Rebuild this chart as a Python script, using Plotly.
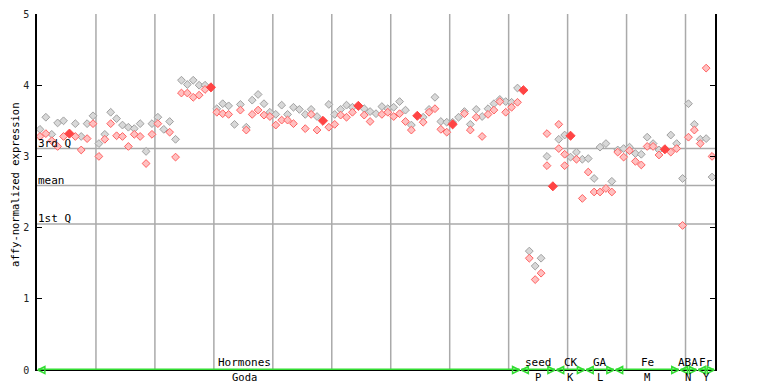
import plotly.graph_objects as go

# ---- data (sample index -> replicate values) ----
rep1 = [3.38,3.55,3.31,3.47,3.50,None,3.46,3.28,3.46,3.57,
        3.18,3.31,3.62,3.53,3.44,3.41,3.39,3.46,3.07,3.46,
        3.55,3.38,3.49,3.24,4.07,4.01,4.07,4.00,4.00,None,
        3.67,3.74,3.71,3.45,3.73,3.41,3.79,3.87,3.74,3.62,
        3.59,3.72,3.59,3.69,3.66,3.59,3.66,3.56,None,3.73,
        3.59,3.66,3.72,3.69,None,3.67,3.63,3.60,3.70,3.67,
        3.69,3.77,3.65,3.44,None,3.55,3.66,3.83,3.49,3.48,
        3.48,3.55,3.63,3.45,3.66,3.56,3.67,3.74,3.80,3.77,
        3.76,3.96,None,1.67,1.46,1.57,3.00,None,3.24,3.30,
        2.99,3.06,2.96,2.97,2.69,3.13,3.18,2.65,3.09,3.11,
        3.13,3.04,3.03,3.27,3.18,3.09,None,3.30,3.18,2.69,
        3.74,3.45,3.24,3.25,2.71]
rep2 = [3.28,3.32,3.22,3.14,3.28,None,3.28,3.09,3.25,3.46,
        3.00,3.24,3.46,3.29,3.28,3.14,3.31,3.28,2.90,3.31,
        3.46,None,3.34,2.99,3.89,3.89,3.83,3.86,3.94,None,
        3.62,3.60,3.59,None,3.65,3.37,3.59,3.65,3.58,3.56,
        3.44,3.51,3.51,3.46,None,3.39,3.59,3.37,None,3.41,
        3.45,3.58,3.55,3.62,None,3.58,3.49,None,3.59,3.62,
        3.56,3.60,3.49,3.37,None,3.48,3.62,3.67,3.38,3.34,
        None,None,3.60,3.37,3.55,3.28,3.59,3.65,3.77,3.62,
        3.69,3.76,None,1.57,1.27,1.36,3.32,None,3.45,2.87,
        None,2.96,2.41,2.78,2.50,2.50,2.55,2.50,3.06,2.99,
        3.08,2.93,2.88,3.14,3.14,3.02,None,3.06,3.11,2.03,
        3.27,3.37,3.18,4.24,3.00]
rep3 = [None]*86 + [2.87, None, 3.11, 3.03] + [None]*25
solid = [None]*5 + [3.32] + [None]*23 + [3.97] + [None]*18 + [3.50] + [None]*5 + [3.71] \
        + [None]*9 + [3.57] + [None]*5 + [3.45] + [None]*11 + [3.93] + [None]*4 + [2.58] \
        + [None]*2 + [3.29] + [None]*15 + [3.10] + [None]*8
samples = list(range(len(rep1)))

groups_top = ["Hormones", "seed", "CK", "GA", "Fe", "ABA", "Fr"]
groups_bottom = ["Goda", "P", "K", "L", "M", "N", "Y"]
group_start = [0, 82, 88, 93, 98, 109, 112]
group_end = [81, 87, 92, 97, 108, 111, 114]

quartiles = {"3rd Q": 3.11, "mean": 2.59, "1st Q": 2.05}
y_ticks = [0, 1, 2, 3, 4, 5]

FONT = "DejaVu Sans Mono"
FS = 11
GRID = "#aaaaaa"
GREEN = "#33dd33"
# page has an 8px body margin; compensate so the plot area lands at x 37..715, y 14..370
W, H = 760, 376
ML, MR, MT, MB = 29, 53, 6, 14

fig = go.Figure()

# quartile lines
for name, v in quartiles.items():
    fig.add_shape(type="line", xref="paper", x0=0, x1=1, yref="y", y0=v, y1=v,
                  line=dict(color=GRID, width=1.5), layer="below")
    fig.add_annotation(xref="paper", x=0.0, yref="y", y=v, text=name, showarrow=False,
                       xanchor="left", yanchor="bottom", yshift=-2, borderpad=0,
                       font=dict(family=FONT, size=FS, color="#000"))

# vertical separators every 10 samples
for k in range(10, len(samples), 10):
    fig.add_shape(type="line", xref="x", x0=k - 0.5, x1=k - 0.5, yref="paper", y0=0, y1=1,
                  line=dict(color=GRID, width=1.5), layer="below")

def pts(vals):
    xs = [s for s, v in zip(samples, vals) if v is not None]
    ys = [v for v in vals if v is not None]
    return xs, ys

x1, y1 = pts(rep1)
fig.add_trace(go.Scatter(x=x1, y=y1, mode="markers",
                         marker=dict(symbol="diamond", size=6, color="#d8d8d8",
                                     line=dict(color="#a0a0a0", width=1)),
                         cliponaxis=False, hoverinfo="skip"))
for vals in (rep2, rep3):
    xx, yy = pts(vals)
    fig.add_trace(go.Scatter(x=xx, y=yy, mode="markers",
                             marker=dict(symbol="diamond", size=6, color="#ffc0c0",
                                         line=dict(color="#ff6060", width=1)),
                             cliponaxis=False, hoverinfo="skip"))
xs, ys = pts(solid)
fig.add_trace(go.Scatter(x=xs, y=ys, mode="markers",
                         marker=dict(symbol="diamond", size=7, color="#ff4444",
                                     line=dict(color="#ff4444", width=1)),
                         cliponaxis=False, hoverinfo="skip"))

# group arrows and labels
for top, bot, s, e in zip(groups_top, groups_bottom, group_start, group_end):
    fig.add_trace(go.Scatter(x=[s - 0.35, e + 0.35], y=[0, 0], mode="lines+markers",
                             line=dict(color=GREEN, width=3),
                             marker=dict(symbol=["arrow-left-open", "arrow-right-open"],
                                         size=7, color=GREEN, line=dict(color=GREEN, width=1.5)),
                             cliponaxis=False, hoverinfo="skip"))
    cx = (s + e) / 2
    shift = -34 if top == "Hormones" else 0
    fig.add_annotation(x=cx, y=0, xref="x", yref="y", text=top, showarrow=False,
                       yanchor="bottom", yshift=0, xshift=shift, borderpad=0,
                       font=dict(family=FONT, size=FS, color="#000"))
    fig.add_annotation(x=cx, y=0, xref="x", yref="y", text=bot, showarrow=False,
                       yanchor="top", yshift=0, xshift=shift, borderpad=0,
                       font=dict(family=FONT, size=FS - 0.5, color="#000"))

# y-axis title
fig.add_annotation(xref="paper", x=(7 - ML) / (W - ML - MR), yref="paper", y=0.52,
                   text="affy-normalized expression", textangle=-90, showarrow=False,
                   xanchor="center", yanchor="middle", borderpad=0,
                   font=dict(family=FONT, size=10.5, color="#000"))

fig.update_layout(
    width=W, height=H,
    margin=dict(l=ML, r=MR, t=MT, b=MB, autoexpand=False),
    paper_bgcolor="white", plot_bgcolor="white",
    showlegend=False,
    xaxis=dict(range=[-0.5, len(samples) - 0.5], showgrid=False, zeroline=False,
               showticklabels=False, ticks="", showline=True, linecolor="#000", linewidth=1,
               layer="below traces"),
    yaxis=dict(range=[0, 5], tickvals=y_ticks, showgrid=False, zeroline=False,
               ticks="inside", ticklen=5, tickcolor="#000", showline=True, linecolor="#000",
               linewidth=1.5, mirror="ticks", ticklabelstandoff=4,
               tickfont=dict(family=FONT, size=10, color="#222")),
)

fig.write_html("out.html")
